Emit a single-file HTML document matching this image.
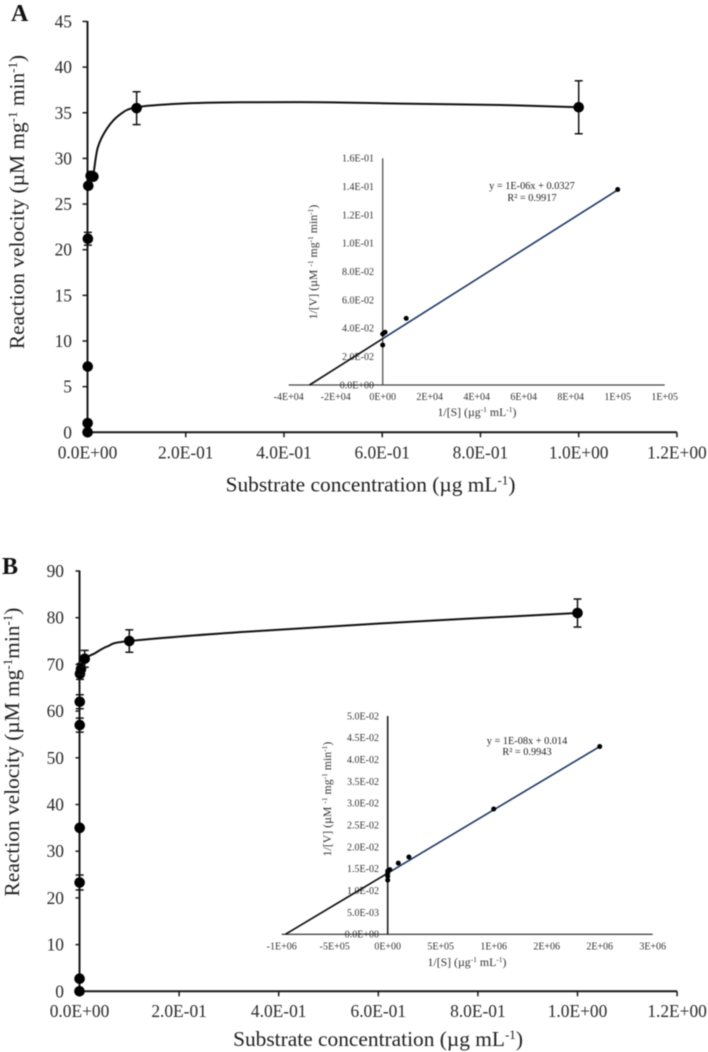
<!DOCTYPE html>
<html lang="en">
<head>
<meta charset="utf-8">
<title>Reaction velocity vs substrate concentration</title>
<style>
html,body{margin:0;padding:0;background:#fff;}
svg{display:block;filter:blur(0.4px);font-family:"Liberation Serif","DejaVu Serif",serif;}
.tick{font-size:17.4px;fill:#2a2a2a;}
.title{font-size:21.4px;fill:#1f1f1f;}
.sub-tick{font-size:10px;fill:#333;}
.sub-title{font-size:11.8px;fill:#333;}
.eq{font-size:10.3px;fill:#222;}
.panel{font-size:24px;font-weight:bold;fill:#111;}
</style>
</head>
<body>
<svg id="fig" xmlns="http://www.w3.org/2000/svg" width="708" height="1052" viewBox="0 0 708 1052">
  <rect x="0" y="0" width="708" height="1052" fill="#fff"/>
  <text class="panel" x="11" y="21">A</text>
  <text class="panel" x="2" y="574">B</text>

  <text class="title" transform="translate(24,202) rotate(-90)" text-anchor="middle">Reaction velocity (µM mg<tspan font-size="13" dy="-7">-1</tspan><tspan dy="7"> min</tspan><tspan font-size="13" dy="-7">-1</tspan><tspan dy="7">)</tspan></text>
  <text class="title" x="370.5" y="491.5" text-anchor="middle">Substrate concentration (µg mL<tspan font-size="13" dy="-7">-1</tspan><tspan dy="7">)</tspan></text>
  <text class="title" transform="translate(19,752) rotate(-90)" text-anchor="middle">Reaction velocity (µM mg<tspan font-size="13" dy="-7">-1</tspan><tspan dy="7">min</tspan><tspan font-size="13" dy="-7">-1</tspan><tspan dy="7">)</tspan></text>
  <text class="title" x="378" y="1046" text-anchor="middle">Substrate concentration (µg mL<tspan font-size="13" dy="-7">-1</tspan><tspan dy="7">)</tspan></text>

  <text class="sub-title" transform="translate(317,262) rotate(-90)" text-anchor="middle">1/[V] (µM <tspan font-size="7.5" dy="-4">-1</tspan><tspan dy="4"> mg</tspan><tspan font-size="7.5" dy="-4">-1</tspan><tspan dy="4"> min</tspan><tspan font-size="7.5" dy="-4">-1</tspan><tspan dy="4">)</tspan></text>
  <text class="sub-title" x="477" y="416" text-anchor="middle">1/[S] (µg<tspan font-size="7.5" dy="-4">-1</tspan><tspan dy="4"> mL</tspan><tspan font-size="7.5" dy="-4">-1</tspan><tspan dy="4">)</tspan></text>
  <text class="eq" x="532" y="189" text-anchor="middle">y = 1E-06x + 0.0327</text>
  <text class="eq" x="532" y="201" text-anchor="middle">R² = 0.9917</text>

  <text class="sub-title" transform="translate(331,799) rotate(-90)" text-anchor="middle">1/[V] (µM <tspan font-size="7.5" dy="-4">-1</tspan><tspan dy="4"> mg</tspan><tspan font-size="7.5" dy="-4">-1</tspan><tspan dy="4"> min</tspan><tspan font-size="7.5" dy="-4">-1</tspan><tspan dy="4">)</tspan></text>
  <text class="sub-title" x="467" y="966" text-anchor="middle">1/[S] (µg<tspan font-size="7.5" dy="-4">-1</tspan><tspan dy="4"> mL</tspan><tspan font-size="7.5" dy="-4">-1</tspan><tspan dy="4">)</tspan></text>
  <text class="eq" x="527" y="744" text-anchor="middle">y = 1E-08x + 0.014</text>
  <text class="eq" x="527" y="755" text-anchor="middle">R² = 0.9943</text>
</svg>
<script>
// ---- Panel A main chart data ----
const mainAYTicks = [0, 5, 10, 15, 20, 25, 30, 35, 40, 45];
const mainAXTicks = [0, 0.2, 0.4, 0.6, 0.8, 1.0, 1.2];
const mainAXTickLabels = ["0.0E+00", "2.0E-01", "4.0E-01", "6.0E-01", "8.0E-01", "1.0E+00", "1.2E+00"];
const mainAConc = [0.0002, 0.0003, 0.0005, 0.0008, 0.0016, 0.0065, 0.012, 0.1, 1.0];
const mainAVelocity = [0, 1, 7.2, 21.2, 27, 28.1, 28, 35.5, 35.6];
const mainAError = [0, 0, 0, 0.7, 0, 0, 0, 1.8, 2.9];
const fitAConc = [0.0016, 0.011, 0.021, 0.04, 0.066, 0.1, 0.19, 0.31, 0.47, 0.64, 0.84, 1.0];
const fitAVelocity = [27, 28, 31.2, 33.3, 34.8, 35.6, 36, 36.15, 36.15, 36, 35.85, 35.6];

// ---- Panel B main chart data ----
const mainBYTicks = [0, 10, 20, 30, 40, 50, 60, 70, 80, 90];
const mainBXTicks = [0, 0.2, 0.4, 0.6, 0.8, 1.0, 1.2];
const mainBXTickLabels = ["0.0E+00", "2.0E-01", "4.0E-01", "6.0E-01", "8.0E-01", "1.0E+00", "1.2E+00"];
const mainBConc = [0, 0.0002, 0.0003, 0.0004, 0.0005, 0.0006, 0.001, 0.003, 0.0105, 0.1, 1.0];
const mainBVelocity = [0, 2.7, 23.3, 35, 57, 62, 68, 69, 71.2, 75, 81];
const mainBError = [0, 0, 1.6, 0, 1.5, 1.5, 1.2, 1.2, 1.8, 2.4, 3];
const fitBConc = [0.003, 0.0105, 0.031, 0.057, 0.1, 0.322, 0.643, 1.0];
const fitBVelocity = [69, 71.2, 72.4, 73.9, 75, 76.9, 79, 81];

// ---- Inset A (Lineweaver-Burk) data ----
const insetAYTicks = [0, 0.02, 0.04, 0.06, 0.08, 0.10, 0.12, 0.14, 0.16];
const insetAYLabels = ["0.0E+00", "2.0E-02", "4.0E-02", "6.0E-02", "8.0E-02", "1.0E-01", "1.2E-01", "1.4E-01", "1.6E-01"];
const insetAXTicks = [-40000, -20000, 0, 20000, 40000, 60000, 80000, 100000, 120000];
const insetAXLabels = ["-4E+04", "-2E+04", "0E+00", "2E+04", "4E+04", "6E+04", "8E+04", "1E+05", "1E+05"];
const insetAInvS = [0, 0, 1000, 10000, 100000];
const insetAInvV = [0.0282, 0.036, 0.0372, 0.047, 0.138];
const insetASlope = [1.05e-6];
const insetAIntercept = [0.0327];

// ---- Inset B (Lineweaver-Burk) data ----
const insetBYTicks = [0, 0.005, 0.01, 0.015, 0.02, 0.025, 0.03, 0.035, 0.04, 0.045, 0.05];
const insetBYLabels = ["0.0E+00", "5.0E-03", "1.0E-02", "1.5E-02", "2.0E-02", "2.5E-02", "3.0E-02", "3.5E-02", "4.0E-02", "4.5E-02", "5.0E-02"];
const insetBXTicks = [-1000000, -500000, 0, 500000, 1000000, 1500000, 2000000, 2500000];
const insetBXLabels = ["-1E+06", "-5E+05", "0E+00", "5E+05", "1E+06", "2E+06", "2E+06", "3E+06"];
const insetBInvS = [0, 0, 0, 0, 20000, 100000, 200000, 1000000, 2000000];
const insetBInvV = [0.0124, 0.0133, 0.014, 0.0145, 0.0148, 0.0163, 0.0177, 0.0287, 0.043];
const insetBSlope = [1.45e-8];
const insetBIntercept = [0.014];

const svg = document.getElementById('fig');
const NS = 'http://www.w3.org/2000/svg';

function make(tag, attrs, parent) {
  const el = document.createElementNS(NS, tag);
  for (const k in attrs) el.setAttribute(k, attrs[k]);
  (parent || svg).appendChild(el);
  return el;
}

function line(x1, y1, x2, y2, stroke, width, name) {
  const el = make('line', {x1: x1, y1: y1, x2: x2, y2: y2, stroke: stroke, 'stroke-width': width});
  
  
  return el;
}

function label(x, y, txt, cls, anchor, name) {
  const el = make('text', {x: x, y: y, class: cls, 'text-anchor': anchor});
  el.textContent = txt;
  
  
  return el;
}

function smoothPath(pts) {
  let d = 'M' + pts[0][0] + ' ' + pts[0][1];
  for (let i = 0; i < pts.length - 1; i++) {
    const p0 = pts[Math.max(i - 1, 0)], p1 = pts[i], p2 = pts[i + 1], p3 = pts[Math.min(i + 2, pts.length - 1)];
    const c1x = p1[0] + (p2[0] - p0[0]) / 6, c1y = p1[1] + (p2[1] - p0[1]) / 6;
    const c2x = p2[0] - (p3[0] - p1[0]) / 6, c2y = p2[1] - (p3[1] - p1[1]) / 6;
    d += 'C' + c1x + ' ' + c1y + ' ' + c2x + ' ' + c2y + ' ' + p2[0] + ' ' + p2[1];
  }
  return d;
}

function drawMain(id, sx, sy, yTicks, xTicks, xLabels, conc, vel, err, fitX, fitY, opts) {
  // axes
  line(sx(0), sy(yTicks[yTicks.length - 1]) - 0.5, sx(0), sy(0) + 0.8, '#1a1a1a', 2, id + '-y-axis');
  line(sx(0), sy(0), sx(xTicks[xTicks.length - 1]), sy(0), '#1a1a1a', 2, id + '-x-axis');
  yTicks.forEach(function (t) {
    line(sx(0) - opts.yTickLen, sy(t), sx(0), sy(t), '#1a1a1a', 1.5, id + '-y-tick');
    label(opts.yLabelX, sy(t) + 6, String(t), 'tick', 'end', id + '-y-tick-label');
  });
  xTicks.forEach(function (t, i) {
    line(sx(t), sy(0), sx(t), sy(0) + 5, '#1a1a1a', 1.5, id + '-x-tick');
    label(sx(t), opts.xLabelY, xLabels[i], 'tick', 'middle', id + '-x-tick-label');
  });
  // fitted curve
  const pts = fitX.map(function (v, i) { return [sx(v), sy(fitY[i])]; });
  const curve = make('path', {d: smoothPath(pts), fill: 'none', stroke: '#111', 'stroke-width': 2});
  
  
  // error bars and points
  conc.forEach(function (c, i) {
    if (err[i] > 0) {
      const x = sx(c), top = sy(vel[i] + err[i]), bot = sy(vel[i] - err[i]);
      line(x, top, x, bot, '#111', 1.5, id + '-error-bar');
      line(x - 4, top, x + 4, top, '#111', 1.5, id + '-error-cap-top');
      line(x - 4, bot, x + 4, bot, '#111', 1.5, id + '-error-cap-bottom');
    }
    const dot = make('circle', {cx: sx(c), cy: sy(vel[i]), r: 5.3, fill: '#000'});
    
    
  });
}

function drawInset(id, sx, sy, yTicks, yLabels, xTicks, xLabels, invS, invV, slope, intercept, opts) {
  line(sx(xTicks[0]), sy(0), sx(xTicks[xTicks.length - 1]), sy(0), opts.axis, 1.2, id + '-x-axis');
  line(sx(0), sy(yTicks[yTicks.length - 1]), sx(0), sy(0), opts.axis, opts.yWidth, id + '-y-axis');
  yTicks.forEach(function (t, i) {
    label(opts.yLabelX, sy(t) + 3.4, yLabels[i], 'sub-tick', 'end', id + '-y-tick-label');
  });
  xTicks.forEach(function (t, i) {
    label(sx(t), opts.xLabelY, xLabels[i], 'sub-tick', 'middle', id + '-x-tick-label');
  });
  const xInt = -intercept / slope;
  const xEnd = invS[invS.length - 1];
  line(sx(xInt), sy(0), sx(0), sy(intercept), '#111', 1.7, id + '-trendline-extrapolated');
  line(sx(0), sy(intercept), sx(xEnd), sy(slope * xEnd + intercept), '#1f3864', 1.6, id + '-trendline');
  invS.forEach(function (s, i) {
    const dot = make('circle', {cx: sx(s), cy: sy(invV[i]), r: 2.5, fill: '#000'});
    
    
  });
}

// axis functions
const xMainA = function (v) { return 87.5 + v * 491.2; };
const yMainA = function (v) { return 432.3 - v * 9.13; };
const xMainB = function (v) { return 79.5 + v * 498; };
const yMainB = function (v) { return 991.3 - v * 4.67; };
const xInsetA = function (v) { return 382.7 + v * 47 / 20000; };
const yInsetA = function (v) { return 385 - v * 226.7 / 0.16; };
const xInsetB = function (v) { return 387.7 + v * 53 / 500000; };
const yInsetB = function (v) { return 934.3 - v * 218.3 / 0.05; };

drawMain('panel-a', xMainA, yMainA, mainAYTicks, mainAXTicks, mainAXTickLabels, mainAConc, mainAVelocity, mainAError, fitAConc, fitAVelocity, {yTickLen: 5, yLabelX: 72, xLabelY: 458.5});
drawMain('panel-b', xMainB, yMainB, mainBYTicks, mainBXTicks, mainBXTickLabels, mainBConc, mainBVelocity, mainBError, fitBConc, fitBVelocity, {yTickLen: 4, yLabelX: 64, xLabelY: 1017});
drawInset('inset-a', xInsetA, yInsetA, insetAYTicks, insetAYLabels, insetAXTicks, insetAXLabels, insetAInvS, insetAInvV, insetASlope[0], insetAIntercept[0], {axis: '#444', yWidth: 1.2, yLabelX: 374, xLabelY: 400});
drawInset('inset-b', xInsetB, yInsetB, insetBYTicks, insetBYLabels, insetBXTicks, insetBXLabels, insetBInvS, insetBInvV, insetBSlope[0], insetBIntercept[0], {axis: '#222', yWidth: 1.6, yLabelX: 379, xLabelY: 949.5});
</script>
</body>
</html>
